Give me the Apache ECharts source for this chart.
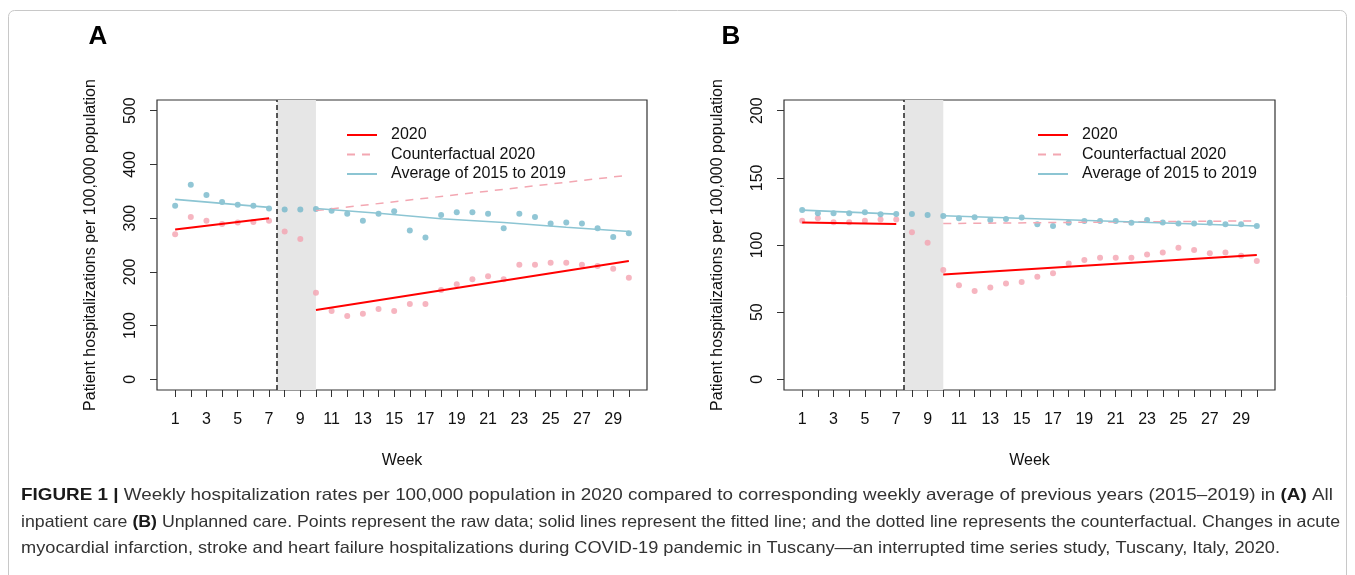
<!DOCTYPE html>
<html><head><meta charset="utf-8">
<script src="https://cdn.jsdelivr.net/npm/echarts@6/dist/echarts.min.js"></script>
<style>html,body{margin:0;padding:0;background:#fff}#c{width:1355px;height:575px}</style>
</head><body><div id="c"></div>
<script>
// ---------- data ----------
const weeks = [1,2,3,4,5,6,7,8,9,10,11,12,13,14,15,16,17,18,19,20,21,22,23,24,25,26,27,28,29,30];
const labelWeeks = [1,3,5,7,9,11,13,15,17,19,21,23,25,27,29];
const yTicksA = [0,100,200,300,400,500];
const yTicksB = [0,50,100,150,200];

// Panel A: all inpatient care (raw weekly points)
const rawA2020 = [270,302,295,289,292,293,295,275,261,161,127,118,122,131,127,140,140,166,177,186,192,186,213,213,217,217,213,211,206,189];
const rawAAvg  = [323,362,343,330,325,323,318,316,316,317,314,308,295,308,313,277,264,306,311,311,308,281,308,302,290,292,290,281,265,272];
// Panel A fitted lines (null = break)
const fitA2020Weeks = [1,7,8,10,30];
const fitA2020Vals  = [279,300,null,129,220];
const cfAWeeks = [10,30];
const cfAVals  = [314,380];
const fitAAvgWeeks = [1,7,8,10,14,18,22,26,30];
const fitAAvgVals  = [335,320,null,318,309,299,292,283,275];

// Panel B: unplanned care
const rawB2020 = [118,120,117,117,118,119,119,109.5,101.7,81.3,70.1,65.7,68.4,71.4,72.5,76.4,78.9,86.3,88.8,90.5,90.5,90.5,93,94.5,98,96.3,93.8,94.5,92,88];
const rawBAvg  = [126,123.6,123.6,123.6,124.4,122.9,123,123,122.4,121.6,119.9,120.6,118.7,119.4,120.4,115.4,114.2,116.6,117.9,117.9,117.9,116.6,118.7,116.8,116,116,116.6,115.4,115.4,114.2];
const fitB2020Weeks = [1,7,8,10,30];
const fitB2020Vals  = [116.7,115.7,null,78.1,92.5];
const cfBWeeks = [10,30];
const cfBVals  = [116,118];
const fitBAvgWeeks = [1,7,8,10,30];
const fitBAvgVals  = [126,123,null,121.8,114.2];

const interruptionStart = 7.5;
const interruptionEnd = 10;

const legendNames = ['2020','Counterfactual 2020','Average of 2015 to 2019'];
const yName = 'Patient hospitalizations per 100,000 population';
const captionLines = [
  [['b','FIGURE 1 | '],['n','Weekly hospitalization rates per 100,000 population in 2020 compared to corresponding weekly average of previous years (2015\u20132019) in '],['b','(A)'],['n',' All']],
  [['n','inpatient care '],['b','(B)'],['n',' Unplanned care. Points represent the raw data; solid lines represent the fitted line; and the dotted line represents the counterfactual. Changes in acute']],
  [['n','myocardial infarction, stroke and heart failure hospitalizations during COVID-19 pandemic in Tuscany\u2014an interrupted time series study, Tuscany, Italy, 2020.']]
];

// ---------- styling ----------
const FONT = 'Liberation Sans';
const C_RED = '#ff0000', C_PINK_PT = '#f4a3b0', C_PINK_LINE = '#f3a7b2';
const C_BLUE_PT = '#76b8ca', C_BLUE_LINE = '#8cc5d3';

function pairs(xs, ys){ return xs.map((x,i)=>[x, ys[i]==null ? '-' : ys[i]]); }

function axesFor(i, yMin, yMax, yTicks){
  const x = {
    type:'value', gridIndex:i, min:-0.16, max:31.16,
    axisLine:{show:false, onZero:false}, splitLine:{show:false},
    axisTick:{show:true, length:7, customValues:weeks, lineStyle:{color:'#333', width:1}},
    axisLabel:{customValues:labelWeeks, margin:22, fontSize:16, fontFamily:FONT, color:'#111'},
    name:'Week', nameLocation:'middle', nameGap:63,
    nameTextStyle:{fontSize:16, fontFamily:FONT, color:'#111'}
  };
  const y = {
    type:'value', gridIndex:i, min:yMin, max:yMax,
    axisLine:{show:false, onZero:false}, splitLine:{show:false},
    axisTick:{show:true, length:7, customValues:yTicks, lineStyle:{color:'#333', width:1}},
    axisLabel:{customValues:yTicks, rotate:90, margin:18, fontSize:16, fontFamily:FONT, color:'#111'},
    name:yName, nameLocation:'middle', nameRotate:90, nameGap:58,
    nameTextStyle:{fontSize:16, fontFamily:FONT, color:'#111'}
  };
  return [x,y];
}

function seriesFor(i, raw20, rawAvg, f20w, f20v, cfw, cfv, faw, fav){
  return [
    { type:'scatter', xAxisIndex:i, yAxisIndex:i, symbolSize:6, z:2,
      itemStyle:{color:C_PINK_PT}, data:pairs(weeks, raw20), silent:true,
      markArea:{silent:true, itemStyle:{color:'#e6e6e6'}, data:[[{xAxis:interruptionStart},{xAxis:interruptionEnd}]]},
      markLine:{silent:true, symbol:'none', label:{show:false},
        lineStyle:{color:'#222', type:[5,3], width:1.5}, data:[{xAxis:interruptionStart}]} },
    { type:'scatter', xAxisIndex:i, yAxisIndex:i, symbolSize:6, z:2,
      itemStyle:{color:C_BLUE_PT}, data:pairs(weeks, rawAvg), silent:true },
    { name:legendNames[0], type:'line', xAxisIndex:i, yAxisIndex:i, symbol:'none', z:4,
      lineStyle:{color:C_RED, width:2}, itemStyle:{color:C_RED}, data:pairs(f20w, f20v) },
    { name:legendNames[1], type:'line', xAxisIndex:i, yAxisIndex:i, symbol:'none', z:3,
      lineStyle:{color:C_PINK_LINE, width:1.5, type:[8,7]}, itemStyle:{color:C_PINK_LINE}, data:pairs(cfw, cfv) },
    { name:legendNames[2], type:'line', xAxisIndex:i, yAxisIndex:i, symbol:'none', z:3,
      lineStyle:{color:C_BLUE_LINE, width:1.6}, itemStyle:{color:C_BLUE_LINE}, data:pairs(faw, fav) }
  ];
}

const axA = axesFor(0, -20, 520, yTicksA);
const axB = axesFor(1, -8, 208, yTicksB);

function legendAt(left){
  return { left:left, top:127, padding:0, orient:'vertical', itemWidth:30, itemHeight:14, itemGap:3.5,
    selectedMode:false, data:legendNames,
    itemStyle:{color:'rgba(0,0,0,0)', borderColor:'rgba(0,0,0,0)', borderWidth:0, opacity:0},
    textStyle:{fontSize:16, fontFamily:FONT, color:'#111', padding:[0,0,0,9]} };
}

// ---------- caption (condensed via horizontal scale, per line) ----------
const CAP_SIZE = 16.5;
const capRight = [1333, 1340, 1280];
const cv = document.createElement('canvas').getContext('2d');
function w(kind, t){ cv.font = (kind==='b'?'bold ':'') + CAP_SIZE + 'px "' + FONT + '"'; return cv.measureText(t).width; }
function lineWidth(line){ return line.reduce((s,p)=>s+w(p[0],p[1]),0); }
const capRich = {
  b:{fontSize:CAP_SIZE, fontFamily:FONT, fontWeight:'bold', fill:'#1a1a1a'},
  n:{fontSize:CAP_SIZE, fontFamily:FONT, fontWeight:'normal', fill:'#333'}
};
const capY = [495, 522, 548];
const captionGraphics = captionLines.map((line, k)=>({
  type:'text', x:21, y:capY[k], scaleX:(capRight[k]-21)/lineWidth(line), originX:0, originY:0, silent:true,
  style:{ text: line.map(p=>'{'+p[0]+'|'+p[1]+'}').join(''), rich:capRich,
    fontSize:CAP_SIZE, fontFamily:FONT, fill:'#333', verticalAlign:'middle', align:'left' }
}));

const option = {
  animation:false,
  backgroundColor:'#fff',
  grid:[
    {left:157, top:100, width:490, height:290, show:true, borderColor:'#333', borderWidth:1.2, backgroundColor:'transparent'},
    {left:784, top:100, width:491, height:290, show:true, borderColor:'#333', borderWidth:1.2, backgroundColor:'transparent'}
  ],
  xAxis:[axA[0], axB[0]],
  yAxis:[axA[1], axB[1]],
  legend:[legendAt(346), legendAt(1037)],
  series:[].concat(
    seriesFor(0, rawA2020, rawAAvg, fitA2020Weeks, fitA2020Vals, cfAWeeks, cfAVals, fitAAvgWeeks, fitAAvgVals),
    seriesFor(1, rawB2020, rawBAvg, fitB2020Weeks, fitB2020Vals, cfBWeeks, cfBVals, fitBAvgWeeks, fitBAvgVals)
  ),
  graphic:[
    {type:'rect', silent:true, shape:{x:8.5, y:10.5, width:1338, height:640, r:6},
      style:{fill:'none', stroke:'#c8c8c8', lineWidth:1}},
    {type:'text', x:98, y:37, silent:true, style:{text:'A', fontSize:26, fontWeight:'bold', fontFamily:FONT, fill:'#000', align:'center', verticalAlign:'middle'}},
    {type:'text', x:731, y:37, silent:true, style:{text:'B', fontSize:26, fontWeight:'bold', fontFamily:FONT, fill:'#000', align:'center', verticalAlign:'middle'}}
  ].concat(captionGraphics)
};

const chart = echarts.init(document.getElementById('c'), null, {renderer:'canvas'});
chart.setOption(option);
</script>
</body></html>
